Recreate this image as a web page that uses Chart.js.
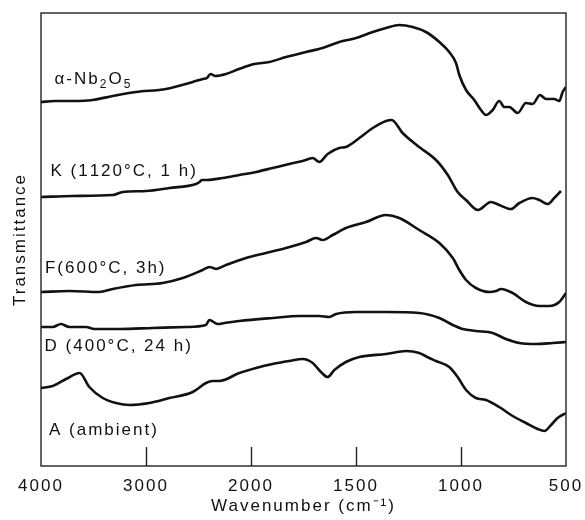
<!DOCTYPE html>
<html>
<head>
<meta charset="utf-8">
<title>IR spectra</title>
<script src="https://cdn.jsdelivr.net/npm/chart.js@4.4.1/dist/chart.umd.min.js"></script>
<style>
  html, body { margin: 0; padding: 0; background: #fff; }
  canvas { display: block; }
</style>
</head>
<body>
<canvas id="irChart" width="585" height="520"></canvas>
<script>
// Tick labels on the wavenumber axis (cm-1)
const tickValues = [4000, 3000, 2000, 1500, 1000, 500];

// alpha-Nb2O5
const nb2o5Wavenumber = [4000, 3870, 3700, 3508, 3317, 3095, 2810, 2555, 2460, 2420, 2385, 2340, 2238, 2114, 1984, 1913, 1833, 1738, 1659, 1580, 1500, 1420, 1357, 1294, 1230, 1167, 1103, 1056, 1024, 1008, 976, 937, 905, 881, 849, 818, 794, 770, 730, 691, 659, 624, 595, 556, 532, 516, 500];
const nb2o5Transmittance = [364, 365, 365, 366, 370, 374, 377, 384, 387, 388, 392, 390, 392, 397, 402, 404, 409, 414, 418, 424, 428, 434, 438, 441, 439, 434, 424, 414, 403, 391, 376, 366, 356, 351, 356, 365, 359, 359, 353, 363, 362, 371, 367, 367, 365, 374, 379];

// K (1120 C, 1 h)
const kWavenumber = [4000, 3700, 3317, 3222, 3000, 2778, 2524, 2490, 2470, 2420, 2270, 2111, 1976, 1897, 1818, 1754, 1706, 1675, 1635, 1580, 1548, 1484, 1420, 1357, 1330, 1278, 1199, 1119, 1063, 1016, 976, 920, 857, 818, 762, 722, 659, 627, 587, 556, 524];
const kTransmittance = [269, 270, 271, 274, 275, 278, 282, 284, 286, 286, 288, 291, 294, 298, 302, 305, 308, 304, 312, 318, 319, 328, 338, 345, 346, 333, 319, 306, 291, 274, 266, 256, 264, 261, 257, 263, 268, 266, 262, 268, 275];

// F (600 C, 3 h)
const fWavenumber = [4000, 3730, 3445, 3317, 3095, 2841, 2650, 2460, 2395, 2360, 2333, 2238, 2048, 1929, 1833, 1738, 1690, 1659, 1611, 1548, 1452, 1357, 1294, 1199, 1103, 1039, 1008, 976, 929, 865, 833, 810, 754, 691, 627, 580, 532, 500];
const fTransmittance = [174, 175, 174, 177, 181, 183, 188, 196, 199, 198, 197, 201, 208, 213, 218, 224, 228, 226, 231, 238, 244, 251, 248, 236, 223, 208, 196, 186, 178, 174, 175, 177, 173, 164, 160, 160, 164, 173];

// D (400 C, 24 h)
const dWavenumber = [4000, 3889, 3810, 3730, 3571, 3492, 3254, 2936, 2619, 2429, 2397, 2317, 2254, 2111, 1897, 1770, 1675, 1627, 1595, 1500, 1357, 1199, 1103, 1039, 992, 929, 849, 786, 722, 643, 563, 500];
const dTransmittance = [139, 139, 142, 139, 139, 137, 137, 138, 139, 141, 146, 142, 143, 145, 148, 150, 150, 149, 152, 154, 154, 153, 148, 141, 137, 135, 133, 127, 123, 122, 123, 124];

// A (ambient)
const aWavenumber = [4000, 3889, 3762, 3632, 3540, 3412, 3286, 3159, 2969, 2778, 2555, 2429, 2365, 2302, 2111, 1976, 1897, 1818, 1754, 1706, 1667, 1635, 1603, 1548, 1484, 1357, 1262, 1199, 1151, 1119, 1056, 1016, 976, 929, 881, 818, 754, 691, 635, 603, 571, 540, 500];
const aTransmittance = [78, 80, 87, 93, 79, 68, 63, 61, 63, 68, 74, 83, 85, 85, 93, 98, 102, 105, 107, 103, 94, 89, 96, 104, 109, 112, 115, 113, 108, 105, 99, 89, 76, 68, 66, 59, 50, 43, 37, 35, 41, 48, 53];

// Curve labels and where they sit (wavenumber, transmittance of the text baseline)
const curveLabels = ['α-Nb₂O₅', 'K (1120°C, 1 h)', 'F(600°C, 3h)', 'D (400°C, 24 h)', 'A (ambient)'];
const labelWavenumber = [3871, 3910, 3962, 3966, 3924];
const labelTransmittance = [382, 290, 193, 115, 31];

const FONT = "'Liberation Sans', Arial, Helvetica, sans-serif";
const INK = '#111';

// 4000-2000 is drawn at half the scale of 2000-500
function wavenumberToDecimal(w) {
    const u = w >= 2000 ? (4000 - w) / 2 : 1000 + (2000 - w);
    return u / 2500;
}

function decimalToWavenumber(d) {
    const u = d * 2500;
    return u <= 1000 ? 4000 - 2 * u : 2000 - (u - 1000);
}

class WavenumberScale extends Chart.LinearScale {
    buildTicks() {
        return tickValues.map(v => ({ value: v }));
    }
    getPixelForValue(value) {
        return this.getPixelForDecimal(wavenumberToDecimal(value));
    }
    getValueForPixel(pixel) {
        return decimalToWavenumber(this.getDecimalForPixel(pixel));
    }
}
WavenumberScale.id = 'wavenumber';
WavenumberScale.defaults = {};
Chart.register(WavenumberScale);

function toPoints(xs, ys) {
    return xs.map((x, i) => ({ x: x, y: ys[i] }));
}

const series = [
    toPoints(nb2o5Wavenumber, nb2o5Transmittance),
    toPoints(kWavenumber, kTransmittance),
    toPoints(fWavenumber, fTransmittance),
    toPoints(dWavenumber, dTransmittance),
    toPoints(aWavenumber, aTransmittance)
];

// wide letter spacing like the printed figure
const spacingPlugin = {
    id: 'spacing',
    beforeUpdate(chart) { chart.ctx.letterSpacing = '2px'; },
    beforeDraw(chart) { chart.ctx.letterSpacing = '2px'; }
};

// box around the plot + inner tick marks on the bottom edge
const framePlugin = {
    id: 'frame',
    afterDatasetsDraw(chart) {
        const { ctx, chartArea: a } = chart;
        const xScale = chart.scales.x;
        ctx.save();
        ctx.strokeStyle = '#222';
        ctx.lineWidth = 1.4;
        ctx.strokeRect(a.left, a.top, a.right - a.left, a.bottom - a.top);
        ctx.beginPath();
        tickValues.slice(1, -1).forEach(w => {
            const px = Math.round(xScale.getPixelForValue(w)) + 0.5;
            ctx.moveTo(px, a.bottom);
            ctx.lineTo(px, a.bottom - 19);
        });
        ctx.stroke();
        ctx.restore();
    }
};

// sample names, subscripts drawn smaller and lower
const labelPlugin = {
    id: 'curveLabels',
    afterDatasetsDraw(chart) {
        const { ctx } = chart;
        const xScale = chart.scales.x;
        const yScale = chart.scales.y;
        const subs = { '₂': '2', '₅': '5' };
        ctx.save();
        ctx.fillStyle = INK;
        ctx.textBaseline = 'alphabetic';
        ctx.textAlign = 'left';
        ctx.letterSpacing = '2px';
        curveLabels.forEach((text, i) => {
            let x = xScale.getPixelForValue(labelWavenumber[i]);
            const y = yScale.getPixelForValue(labelTransmittance[i]);
            for (const ch of text) {
                if (subs[ch]) {
                    ctx.font = '12px ' + FONT;
                    ctx.fillText(subs[ch], x, y + 4);
                    x += ctx.measureText(subs[ch]).width;
                } else {
                    ctx.font = '17px ' + FONT;
                    ctx.fillText(ch, x, y);
                    x += ctx.measureText(ch).width;
                }
            }
        });
        ctx.restore();
    }
};

const ctx = document.getElementById('irChart').getContext('2d');

new Chart(ctx, {
    type: 'line',
    data: {
        datasets: series.map((points, i) => ({
            label: curveLabels[i],
            data: points,
            borderColor: INK,
            borderWidth: 2.6,
            pointRadius: 0,
            fill: false,
            cubicInterpolationMode: 'monotone'
        }))
    },
    options: {
        responsive: false,
        animation: false,
        events: [],
        layout: {
            padding: { left: 10, right: 19, top: 13, bottom: 2 }
        },
        plugins: {
            legend: { display: false },
            tooltip: { enabled: false }
        },
        scales: {
            x: {
                type: 'wavenumber',
                position: 'bottom',
                min: 500,
                max: 4000,
                grid: { display: false, drawTicks: false },
                border: { display: false },
                ticks: {
                    autoSkip: false,
                    maxRotation: 0,
                    padding: 10,
                    color: INK,
                    font: { family: FONT, size: 17 },
                    callback: value => String(value)
                },
                title: {
                    display: true,
                    text: 'Wavenumber (cm⁻¹)',
                    color: INK,
                    font: { family: FONT, size: 17 },
                    padding: { top: 0, bottom: 1 }
                },
                afterFit(scale) {
                    // fixed band for tick labels + title
                    scale.height = 52;
                    scale.paddingLeft = 0;
                    scale.paddingRight = 0;
                }
            },
            y: {
                type: 'linear',
                min: 0,
                max: 453,
                grid: { display: false, drawTicks: false },
                border: { display: false },
                ticks: { display: false },
                title: {
                    display: true,
                    text: 'Transmittance',
                    color: INK,
                    font: { family: FONT, size: 17 },
                    padding: { top: 0, bottom: 10.6 }
                }
            }
        }
    },
    plugins: [spacingPlugin, framePlugin, labelPlugin]
});
</script>
</body>
</html>
